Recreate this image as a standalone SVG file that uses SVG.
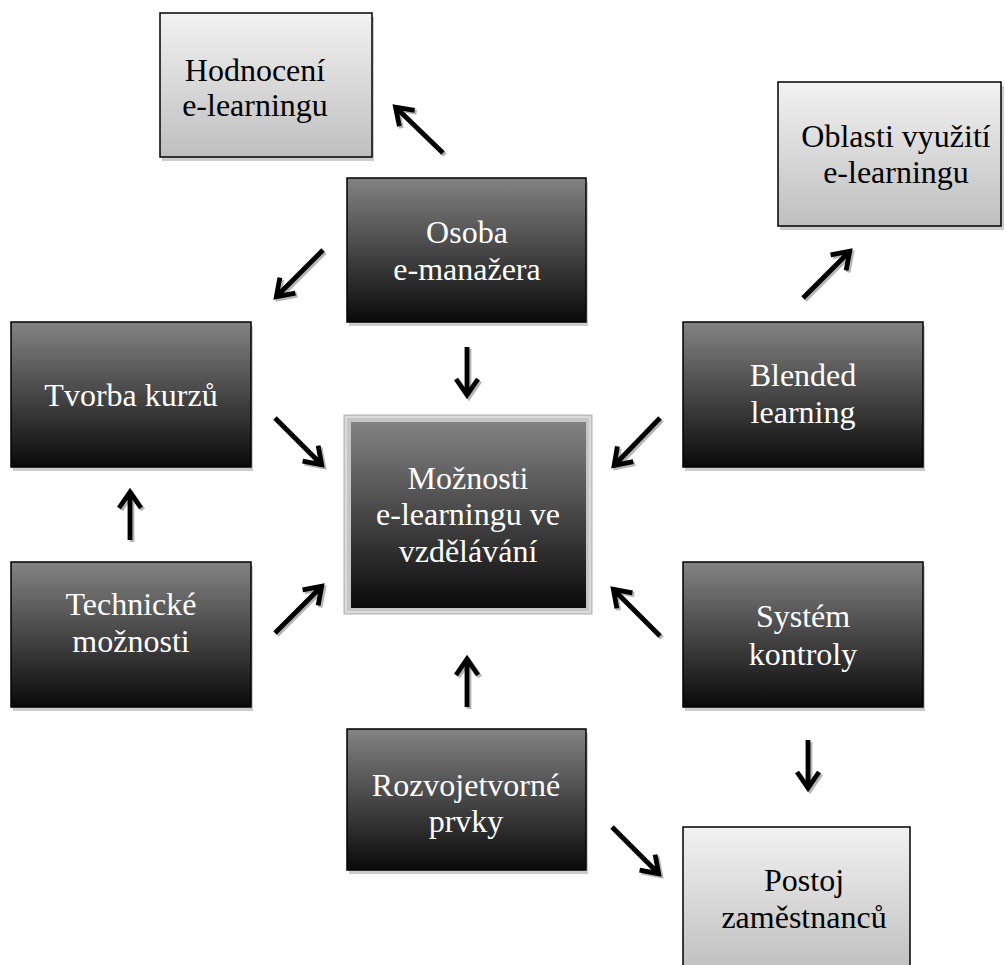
<svg xmlns="http://www.w3.org/2000/svg" xmlns:xlink="http://www.w3.org/1999/xlink" width="1006" height="965" viewBox="0 0 1006 965">
<defs>
<linearGradient id="gDark" x1="0" y1="0" x2="0" y2="1">
<stop offset="0" stop-color="#838383"/>
<stop offset="1" stop-color="#0a0a0a"/>
</linearGradient>
<linearGradient id="gLight" x1="0" y1="0" x2="0" y2="1">
<stop offset="0" stop-color="#f2f2f2"/>
<stop offset="1" stop-color="#bfbfbf"/>
</linearGradient>
<path id="ad" d="M0,0 H64 M50,-11 L66,0 L50,11"/>
<path id="av" d="M0,0 H46 M32,-11 L48,0 L32,11"/>
</defs>
<style>
.dark{fill:url(#gDark);stroke:#000;stroke-width:1.5}
.light{fill:url(#gLight);stroke:#000;stroke-width:1.5}
.sh{fill:#cccccc}
.tw{font-family:"Liberation Serif","Times New Roman",serif;font-size:32px;fill:#ffffff;text-anchor:middle}
.tb{font-family:"Liberation Serif","Times New Roman",serif;font-size:32px;fill:#000000;text-anchor:middle}
.a{fill:none;stroke:#000;stroke-width:4.8;stroke-linejoin:miter;stroke-miterlimit:4}
.as{fill:none;stroke:#b5b5b5;stroke-width:4.8;stroke-linejoin:miter;stroke-miterlimit:4}
</style>
<rect width="1006" height="965" fill="#ffffff"/>

<g id="connectors">
<g transform="translate(2,2)">
<use xlink:href="#ad" class="as" transform="translate(443,153) rotate(-136)"/>
<use xlink:href="#ad" class="as" transform="translate(323,250) rotate(135)"/>
<use xlink:href="#av" class="as" transform="translate(467,347) rotate(90)"/>
<use xlink:href="#ad" class="as" transform="translate(275,418) rotate(45)"/>
<use xlink:href="#av" class="as" transform="translate(130,540) rotate(-90)"/>
<use xlink:href="#ad" class="as" transform="translate(275,633) rotate(-45)"/>
<use xlink:href="#av" class="as" transform="translate(467,707) rotate(-90)"/>
<use xlink:href="#ad" class="as" transform="translate(660,418) rotate(134)"/>
<use xlink:href="#ad" class="as" transform="translate(803,298) rotate(-45)"/>
<use xlink:href="#ad" class="as" transform="translate(660,636) rotate(-135)"/>
<use xlink:href="#av" class="as" transform="translate(808,740) rotate(90)"/>
<use xlink:href="#ad" class="as" transform="translate(612,827) rotate(45)"/>
</g>
<use xlink:href="#ad" class="a" transform="translate(443,153) rotate(-136)"/>
<use xlink:href="#ad" class="a" transform="translate(323,250) rotate(135)"/>
<use xlink:href="#av" class="a" transform="translate(467,347) rotate(90)"/>
<use xlink:href="#ad" class="a" transform="translate(275,418) rotate(45)"/>
<use xlink:href="#av" class="a" transform="translate(130,540) rotate(-90)"/>
<use xlink:href="#ad" class="a" transform="translate(275,633) rotate(-45)"/>
<use xlink:href="#av" class="a" transform="translate(467,707) rotate(-90)"/>
<use xlink:href="#ad" class="a" transform="translate(660,418) rotate(134)"/>
<use xlink:href="#ad" class="a" transform="translate(803,298) rotate(-45)"/>
<use xlink:href="#ad" class="a" transform="translate(660,636) rotate(-135)"/>
<use xlink:href="#av" class="a" transform="translate(808,740) rotate(90)"/>
<use xlink:href="#ad" class="a" transform="translate(612,827) rotate(45)"/>
</g>

<g id="hodnoceni">
<rect class="sh" x="162" y="17" width="212" height="144"/>
<rect class="light" x="160" y="13" width="212" height="144"/>
<text class="tb" x="255" y="81">Hodnocení</text>
<text class="tb" x="255" y="116">e-learningu</text>
</g>

<g id="oblasti">
<rect class="sh" x="780" y="86" width="224" height="144"/>
<rect class="light" x="778" y="82" width="223" height="144"/>
<text class="tb" x="896" y="147">Oblasti využití</text>
<text class="tb" x="896" y="183">e-learningu</text>
</g>

<g id="osoba">
<rect class="sh" x="349" y="182" width="239" height="144"/>
<rect class="dark" x="347" y="178" width="239" height="144"/>
<text class="tw" x="467" y="243">Osoba</text>
<text class="tw" x="467" y="280">e-manažera</text>
</g>

<g id="tvorba">
<rect class="sh" x="13" y="326" width="240" height="145"/>
<rect class="dark" x="11" y="322" width="240" height="145"/>
<text class="tw" x="131" y="406">Tvorba kurzů</text>
</g>

<g id="blended">
<rect class="sh" x="685" y="326" width="240" height="145"/>
<rect class="dark" x="683" y="322" width="240" height="145"/>
<text class="tw" x="803" y="386">Blended</text>
<text class="tw" x="803" y="423">learning</text>
</g>

<g id="moznosti">
<rect x="344" y="415" width="248" height="199" fill="#c6c6c6" stroke="#b8b8b8" stroke-width="1"/>
<rect x="346" y="417" width="244" height="195" fill="none" stroke="#e2e2e2" stroke-width="1.5"/>
<rect x="351" y="422" width="235" height="186" fill="url(#gDark)"/>
<text class="tw" x="468" y="489">Možnosti</text>
<text class="tw" x="468" y="525">e-learningu ve</text>
<text class="tw" x="468" y="562">vzdělávání</text>
</g>

<g id="technicke">
<rect class="sh" x="13" y="566" width="240" height="145"/>
<rect class="dark" x="11" y="562" width="240" height="145"/>
<text class="tw" x="131" y="615">Technické</text>
<text class="tw" x="131" y="652">možnosti</text>
</g>

<g id="system">
<rect class="sh" x="685" y="566" width="240" height="145"/>
<rect class="dark" x="683" y="562" width="240" height="145"/>
<text class="tw" x="803" y="627">Systém</text>
<text class="tw" x="803" y="665">kontroly</text>
</g>

<g id="rozvojetvorne">
<rect class="sh" x="349" y="733" width="239" height="141"/>
<rect class="dark" x="347" y="729" width="239" height="141"/>
<text class="tw" x="466" y="796">Rozvojetvorné</text>
<text class="tw" x="466" y="832">prvky</text>
</g>

<g id="postoj">
<rect class="light" x="683" y="827" width="227" height="145"/>
<text class="tb" x="804" y="891">Postoj</text>
<text class="tb" x="804" y="928">zaměstnanců</text>
</g>
</svg>
